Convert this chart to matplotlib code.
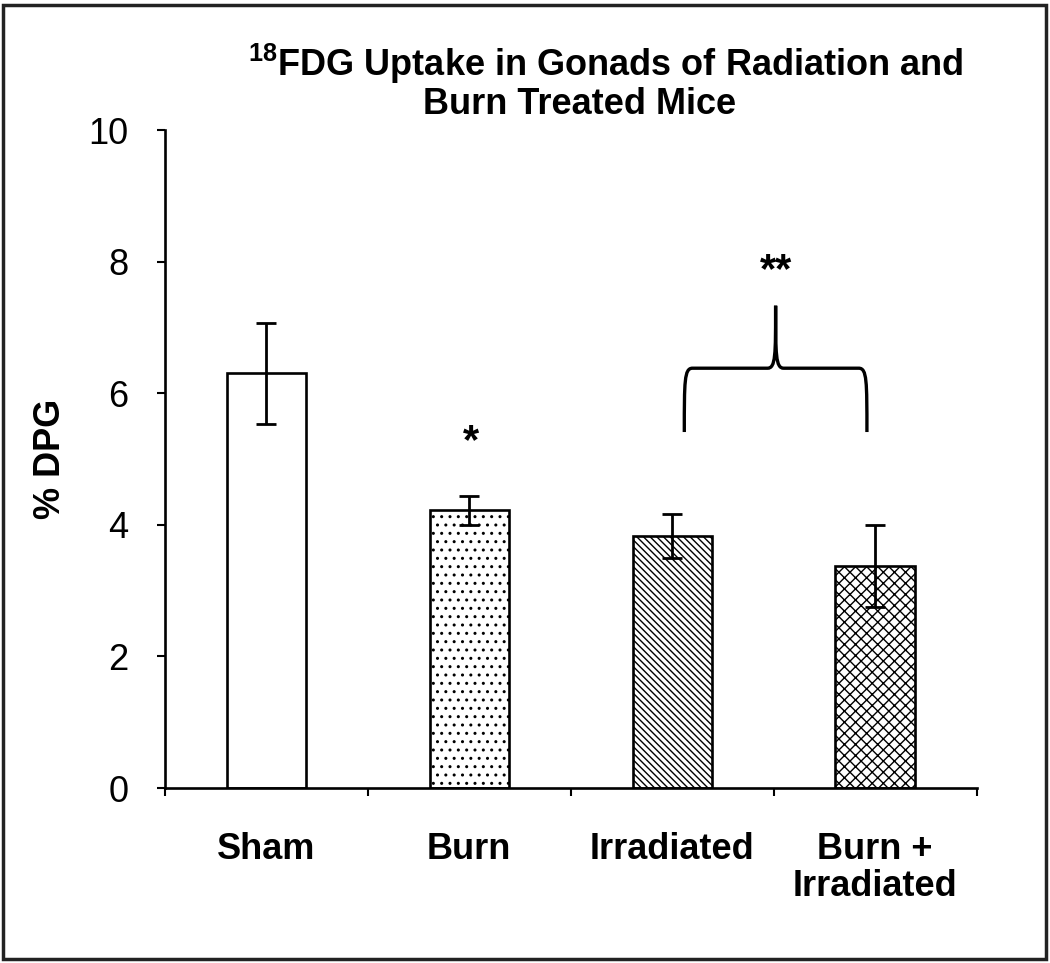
import numpy as np
import matplotlib
matplotlib.use("Agg")
import matplotlib.pyplot as plt
from matplotlib.patches import Rectangle
from matplotlib.path import Path
from matplotlib.patches import PathPatch

groups = ["Sham", "Burn", "Irradiated", "Burn +\nIrradiated"]
dpg = [6.30, 4.22, 3.83, 3.37]
sem = [0.77, 0.22, 0.34, 0.62]
hatches = ["", "..", "\\\\\\\\\\", "xxx"]

narrow = ["Liberation Sans Narrow", "Liberation Sans", "DejaVu Sans"]
plt.rcParams["font.family"] = ["Liberation Sans", "DejaVu Sans"]
plt.rcParams["mathtext.fontset"] = "custom"
plt.rcParams["mathtext.rm"] = "Liberation Sans:bold"
plt.rcParams["mathtext.default"] = "rm"
plt.rcParams["hatch.linewidth"] = 1.0

fig = plt.figure(figsize=(10.5, 9.63), dpi=100)
ax = fig.add_axes([0.157, 0.1817, 0.773, 0.6833])

x = np.arange(len(groups))
ax.bar(x, dpg, width=0.39, color="white", edgecolor="black", linewidth=1.9,
       hatch=hatches, zorder=2)
ax.errorbar(x, dpg, yerr=sem, fmt="none", ecolor="black", elinewidth=2.0,
            capsize=7, capthick=2.0, zorder=3)

ax.set_xlim(-0.5, 3.5)
ax.set_ylim(0, 10)
ax.set_yticks([0, 2, 4, 6, 8, 10])
ax.tick_params(axis="y", direction="out", length=6, width=1.5, pad=20, labelsize=26)
ax.set_xticks(x)
ax.set_xticklabels(groups, fontfamily=narrow, fontweight="bold", fontsize=26,
                   linespacing=1.05)
ax.tick_params(axis="x", which="major", length=0, pad=32)
ax.set_xticks(np.arange(-0.5, 4.0, 1.0), minor=True)
ax.tick_params(axis="x", which="minor", direction="out", length=6, width=1.5)
for s in ["top", "right"]:
    ax.spines[s].set_visible(False)
for s in ["left", "bottom"]:
    ax.spines[s].set_linewidth(1.9)

ax.set_ylabel("% DPG", fontsize=26, fontweight="bold", labelpad=15)

# significance marks
ax.text(1.01, 4.95, "*", ha="center", va="bottom", fontsize=30, fontweight="bold")
ax.text(2.51, 7.55, "**", ha="center", va="bottom", fontsize=30, fontweight="bold")

# curly brace over Irradiated and Burn + Irradiated
xl, xr, xm = 2.06, 2.96, 2.51
yb, yh, yt = 5.41, 6.38, 7.33
dx, dy = 0.04, 0.2
verts = [(xl, yb), (xl, yh - dy), (xl, yh), (xl + dx, yh),
         (xm - dx, yh), (xm, yh), (xm, yh + dy), (xm, yt),
         (xm, yt), (xm, yh + dy), (xm, yh), (xm + dx, yh),
         (xr - dx, yh), (xr, yh), (xr, yh - dy), (xr, yb)]
codes = [Path.MOVETO, Path.CURVE4, Path.CURVE4, Path.CURVE4,
         Path.LINETO, Path.CURVE4, Path.CURVE4, Path.CURVE4,
         Path.MOVETO, Path.CURVE4, Path.CURVE4, Path.CURVE4,
         Path.LINETO, Path.CURVE4, Path.CURVE4, Path.CURVE4]
ax.add_patch(PathPatch(Path(verts, codes), facecolor="none", edgecolor="black",
                       linewidth=2.4, clip_on=False))

fig.text(606 / 1050, 1 - 64 / 963, "$^{18}$FDG Uptake in Gonads of Radiation and",
         ha="center", va="center", fontsize=26, fontweight="bold", fontfamily=narrow)
fig.text(580 / 1050, 1 - 104 / 963, "Burn Treated Mice",
         ha="center", va="center", fontsize=26, fontweight="bold", fontfamily=narrow)

fig.patches.append(Rectangle((0.003, 0.004), 0.993, 0.991, transform=fig.transFigure,
                             fill=False, edgecolor="#222222", linewidth=2.5))

fig.savefig("out.png", dpi=100)
